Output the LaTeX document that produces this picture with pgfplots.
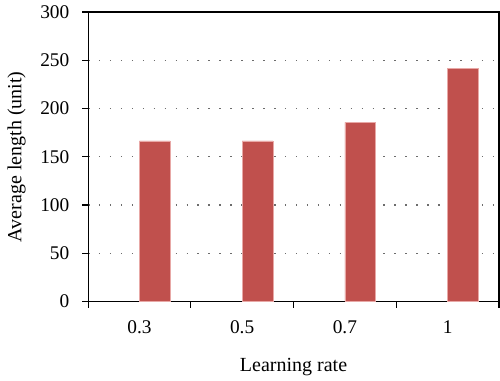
\documentclass[border=0pt]{standalone}
\usepackage{pgfplots}
\pgfplotsset{compat=1.18}
\usepackage{fontspec}
\setmainfont{Liberation Serif}
\definecolor{barred}{HTML}{C0504D}
\definecolor{baredge}{HTML}{E8A8A6}
\begin{document}
\begin{tikzpicture}
\begin{axis}[
  scale only axis,
  width=308pt, height=217pt,
  xmin=-0.5, xmax=3.5,
  ymin=0, ymax=300,
  ytick={0,50,...,300},
  xtick={0,1,2,3},
  xticklabels={0.3,0.5,0.7,1},
  minor xtick={-0.5,0.5,1.5,2.5,3.5},
  tick align=outside,
  xtick pos=bottom, ytick pos=left,
  major tick length=4.5pt, minor tick length=4.5pt,
  major x tick style={draw=none},
  minor x tick style={draw=black, line width=0.8pt},
  major y tick style={draw=black, line width=0.8pt},
  axis line style={black, line width=0.8pt},
  ymajorgrids,
  major grid style={gray!85!black, line width=1.1pt, dash pattern=on 1.1pt off 7.1pt},
  /pgf/number format/assume math mode=true,
  ticklabel style={font=\fontsize{14.5}{16}\selectfont},
  xticklabel style={yshift=-6pt},
  yticklabel style={xshift=-6pt},
  xlabel={Learning rate},
  ylabel={Average length (unit)},
  label style={font=\fontsize{15}{17}\selectfont},
  xlabel style={yshift=-12pt},
  ylabel style={yshift=4pt},
]
\addplot[ybar, bar width=0.3, fill=barred, draw=baredge, line width=0.4pt]
  coordinates {(0.15,166.5) (1.15,166.5) (2.15,185.6) (3.15,241.6)};
\coordinate (sw) at (rel axis cs:0,0);
\coordinate (ne) at (rel axis cs:1,1);
\end{axis}
\pgfresetboundingbox
\useasboundingbox ([xshift=-66pt,yshift=-59.25pt]sw) rectangle ([xshift=0.75pt,yshift=9pt]ne);
\end{tikzpicture}
\end{document}
